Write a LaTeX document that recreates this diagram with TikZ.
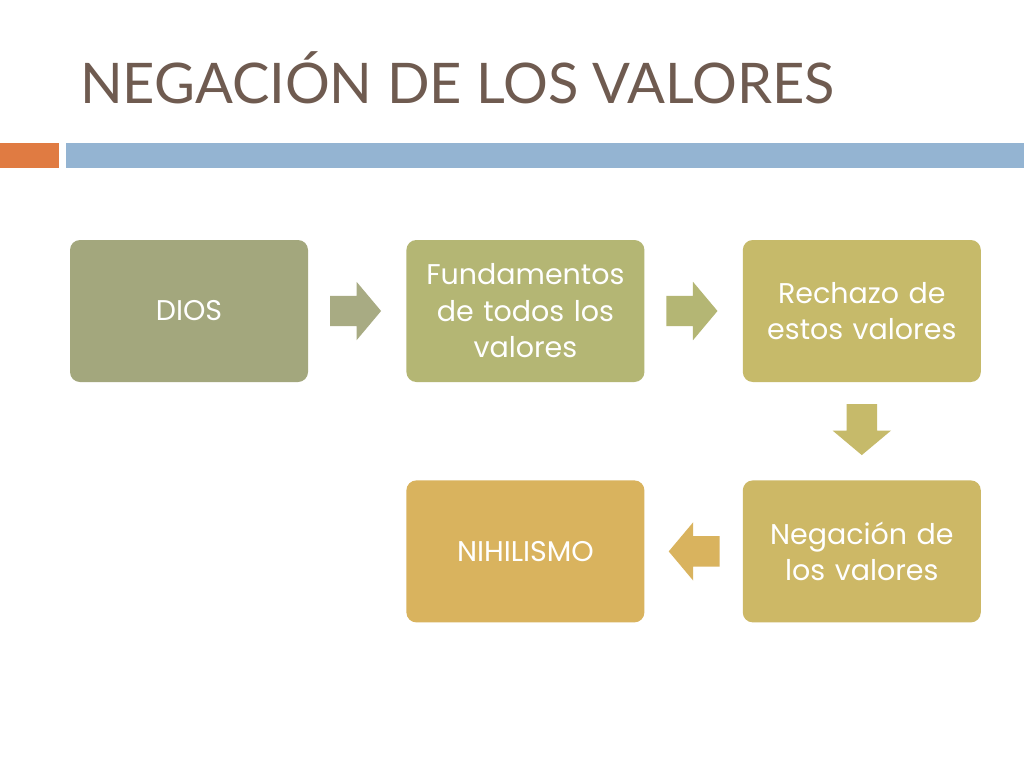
\documentclass[tikz,border=0pt]{standalone}
\usepackage{fontspec}
\setmainfont{Poppins}
\newfontfamily\titlefont{Lato}
\usetikzlibrary{positioning,shapes.arrows,calc}

\definecolor{titlebrown}{HTML}{6F5B50}
\definecolor{barorange}{HTML}{E07B42}
\definecolor{barblue}{HTML}{94B4D2}
\definecolor{boxa}{HTML}{A3A77D}
\definecolor{boxb}{HTML}{B4B674}
\definecolor{boxc}{HTML}{C6BA6A}
\definecolor{boxd}{HTML}{CDB866}
\definecolor{boxe}{HTML}{D9B35E}

\tikzset{
  stepbox/.style = {shape = rectangle, rounded corners = 10pt, minimum width = 238pt,
    minimum height = 142pt, text width = 220pt, align = center, text = white,
    font = \fontsize{28.5}{36.5}\selectfont},
  blockarrow/.style = {single arrow, minimum height = 51pt, minimum width = 58pt,
    single arrow head extend = 14pt, single arrow tip angle = 100, inner sep = 15pt}
}

\begin{document}
\begin{tikzpicture}[x = 1pt, y = -1pt, node distance = 98pt and 98pt]
\useasboundingbox[fill = white] (0,0) rectangle (1024,768);
% title and bar
\node[anchor = base west, inner sep = 0pt, text = titlebrown, font = \titlefont\fontsize{56}{60}\selectfont] (title) at (80,103) {NEGACIÓN DE LOS VALORES};
\fill[barorange] (0,143) rectangle (59,168);
\fill[barblue] (66,143) rectangle (1024,168);
% boxes
\node[stepbox, fill = boxa] (dios) at (189,311) {DIOS};
\node[stepbox, fill = boxb, right = of dios] (fund) {Fundamentos\\de todos los\\valores};
\node[stepbox, fill = boxc, right = of fund] (rech) {Rechazo de\\estos valores};
\node[stepbox, fill = boxd, below = of rech] (neg) {Negación de\\los valores};
\node[stepbox, fill = boxe, left = of neg] (nihil) {NIHILISMO};
% arrows
\node[blockarrow, fill = boxa!95!white, xshift = -8pt] (a1) at ($(dios.east)!0.5!(fund.west)$) {};
\node[blockarrow, fill = boxb, xshift = -8pt] (a2) at ($(fund.east)!0.5!(rech.west)$) {};
\node[blockarrow, fill = boxc, shape border rotate = 270, yshift = 8pt] (a3) at ($(rech.south)!0.5!(neg.north)$) {};
\node[blockarrow, fill = boxe, shape border rotate = 180, xshift = 7pt] (a4) at ($(neg.west)!0.5!(nihil.east)$) {};
\end{tikzpicture}
\end{document}
